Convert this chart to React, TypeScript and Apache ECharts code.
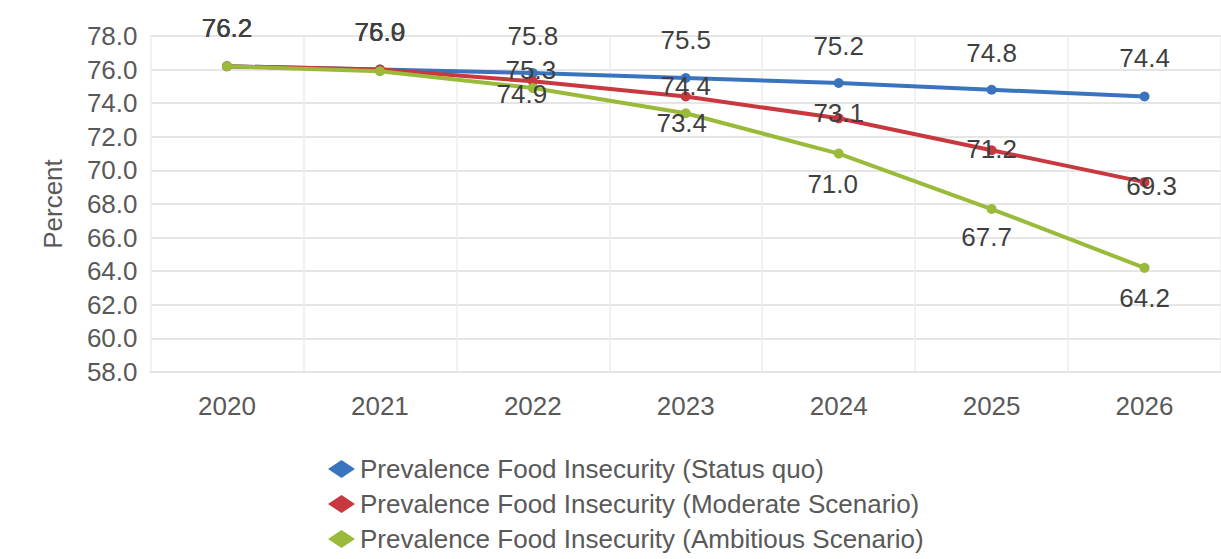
import React, { useEffect, useRef } from "react";
import * as echarts from "echarts";

// Projected prevalence of food insecurity, percent of population
const years = ["2020", "2021", "2022", "2023", "2024", "2025", "2026"];
const statusQuo = [76.2, 76.0, 75.8, 75.5, 75.2, 74.8, 74.4];
const moderate = [76.2, 76.0, 75.3, 74.4, 73.1, 71.2, 69.3];
const ambitious = [76.2, 75.9, 74.9, 73.4, 71.0, 67.7, 64.2];

const seriesNames = [
  "Prevalence Food Insecurity (Status quo)",
  "Prevalence Food Insecurity (Moderate Scenario)",
  "Prevalence Food Insecurity (Ambitious Scenario)",
];
const seriesColors = ["#3b74be", "#c9373f", "#9aba3a"];

// Label nudges (dx, dy in px) relative to each point's centre
const statusLabelShift = [[0, -38], [0, -38], [0, -37], [0, -38], [0, -37], [0, -37], [0, -38]];
const moderateLabelShift = [[0, -38], [0, -38], [-2, -11], [0, -10], [0, -5], [0, -1], [7, 4]];
const ambitiousLabelShift = [[0, -38], [0, -39], [-11, 6], [-4, 10], [-6, 30], [-5, 28], [0, 30]];

const FONT = "'Liberation Sans Narrow', 'Arial Narrow', 'Liberation Sans', Arial, sans-serif";

function buildData(values: number[], shifts: number[][]) {
  return values.map((v, i) => ({
    value: v,
    label: { offset: shifts[i] },
  }));
}

export default function App() {
  const ref = useRef<HTMLDivElement>(null);

  useEffect(() => {
    if (!ref.current) return;
    const chart = echarts.init(ref.current, null, { renderer: "svg" });

    const makeSeries = (idx: number, values: number[], shifts: number[][]) => ({
      name: seriesNames[idx],
      type: "line",
      data: buildData(values, shifts),
      symbol: "circle",
      symbolSize: 10,
      lineStyle: { width: 4, color: seriesColors[idx] },
      itemStyle: { color: seriesColors[idx] },
      z: 3 + idx,
      label: {
        show: true,
        position: "inside",
        formatter: (p: any) => Number(p.value).toFixed(1),
        fontFamily: FONT,
        fontSize: 26,
        color: "#3f3f3f",
      },
    });

    chart.setOption({
      animation: false,
      backgroundColor: "#ffffff",
      grid: { left: 150.5, right: 0, top: 36, bottom: 187, containLabel: false },
      xAxis: {
        type: "category",
        data: years,
        boundaryGap: true,
        axisLine: { show: true, lineStyle: { color: "#e4e4e4", width: 2 } },
        axisTick: { show: false },
        axisLabel: { fontFamily: FONT, fontSize: 26, color: "#595959", margin: 21 },
        splitLine: { show: true, lineStyle: { color: "#ececec", width: 1.5 } },
      },
      yAxis: {
        type: "value",
        min: 58,
        max: 78,
        interval: 2,
        name: "Percent",
        nameLocation: "middle",
        nameGap: 85,
        nameRotate: 90,
        nameTextStyle: { fontFamily: FONT, fontSize: 26, color: "#595959" },
        axisLine: { show: false },
        axisTick: { show: false },
        axisLabel: {
          fontFamily: FONT,
          fontSize: 26,
          color: "#595959",
          margin: 13,
          formatter: (v: number) => v.toFixed(1),
        },
        splitLine: { show: true, lineStyle: { color: "#dcdcdc", width: 1.5 } },
      },
      legend: {
        orient: "vertical",
        left: 328,
        top: 454,
        padding: 0,
        icon: "diamond",
        itemWidth: 27,
        itemHeight: 18,
        itemGap: 5,
        textStyle: { fontFamily: FONT, fontSize: 26, lineHeight: 30, color: "#595959" },
        data: seriesNames,
      },
      series: [
        makeSeries(0, statusQuo, statusLabelShift),
        makeSeries(1, moderate, moderateLabelShift),
        makeSeries(2, ambitious, ambitiousLabelShift),
      ],
    });

    return () => chart.dispose();
  }, []);

  return (
    <div
      ref={ref}
      style={{ position: "absolute", left: 0, top: 0, width: 1221, height: 559, background: "#fff" }}
    />
  );
}
